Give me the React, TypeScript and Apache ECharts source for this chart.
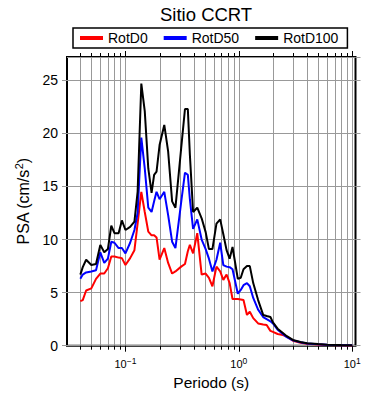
import React, { useEffect, useRef } from "react";
import * as echarts from "echarts";

// Periods (s)
const periods = [
  0.04, 0.042, 0.045, 0.05, 0.055, 0.06, 0.065, 0.07, 0.075, 0.08,
  0.087, 0.093, 0.1, 0.11, 0.12, 0.128, 0.138, 0.148, 0.159, 0.17,
  0.179, 0.188, 0.2, 0.22, 0.238, 0.258, 0.276, 0.31, 0.335, 0.355,
  0.37, 0.395, 0.43, 0.47, 0.51, 0.545, 0.585, 0.635, 0.685, 0.73,
  0.78, 0.83, 0.88, 0.98, 1.04, 1.1, 1.18, 1.25, 1.34, 1.48,
  1.64, 1.76, 1.9, 2.0, 2.2, 2.45, 2.65, 3.0, 3.5, 4.0,
  5.0, 6.0, 8.0, 10.0,
];

// PSA (cm/s^2)
const rotD0 = [
  4.2, 4.3, 5.2, 5.4, 6.3, 6.8, 6.8, 7.3, 8.4, 8.4,
  8.3, 8.25, 7.6, 8.25, 9.0, 11.5, 14.5, 12.6, 10.75, 10.4,
  10.4, 10.2, 8.1, 9.2, 7.8, 6.8, 7.0, 7.45, 7.7, 8.9,
  9.5, 8.7, 10.6, 6.7, 6.8, 6.4, 5.6, 7.45, 7.0, 6.2,
  6.7, 5.9, 4.4, 4.4, 4.35, 4.3, 2.9, 3.2, 2.6, 2.1,
  2.0, 1.95, 1.4, 1.3, 1.1, 1.0, 0.85, 0.47, 0.28, 0.18,
  0.11, 0.07, 0.04, 0.03,
];

const rotD50 = [
  6.3, 6.7, 6.9, 7.0, 7.1, 8.8, 7.8, 8.2, 9.8, 9.7,
  9.2, 9.2, 8.7, 9.7, 10.9, 12.5, 19.6, 16.7, 13.0, 12.6,
  13.6, 14.5, 13.8, 14.5, 12.3, 9.8, 9.2, 13.5, 16.3, 16.1,
  13.8, 11.0, 11.9, 10.0, 9.1, 8.2, 7.0, 8.1, 9.7, 7.6,
  7.45, 7.4, 7.2, 4.9, 5.25, 5.7, 5.9, 5.6, 4.5, 3.4,
  2.7, 2.5, 2.3, 2.1, 1.5, 1.1, 0.8, 0.5, 0.32, 0.21,
  0.13, 0.09, 0.05, 0.035,
];

const rotD100 = [
  6.7, 7.4, 8.1, 7.6, 7.7, 9.5, 8.8, 9.1, 11.3, 10.6,
  10.6, 11.8, 10.9, 11.2, 11.7, 14.5, 24.7, 22.1, 16.7, 14.4,
  16.1, 16.4, 18.9, 20.8, 18.3, 13.6, 13.0, 18.6, 22.3, 22.3,
  18.0, 12.6, 13.0, 12.0, 10.7, 9.1, 9.1, 11.5, 11.9, 10.5,
  9.0, 8.2, 9.3, 6.3, 6.4, 7.2, 7.5, 7.5, 5.9, 4.3,
  2.9, 2.8, 2.7, 2.2, 1.6, 1.2, 0.9, 0.54, 0.35, 0.23,
  0.15, 0.1, 0.06, 0.04,
];

const seriesNames = ["RotD0", "RotD50", "RotD100"];

// Log grid lines (1..9 x 10^n)
const gridPeriods = [
  0.04, 0.05, 0.06, 0.07, 0.08, 0.09,
  0.1, 0.2, 0.3, 0.4, 0.5, 0.6, 0.7, 0.8, 0.9,
  1, 2, 3, 4, 5, 6, 7, 8, 9, 10,
];

const X_MIN = 0.0305;
const X_MAX = 10.7;
const Y_MIN = 0;
const Y_MAX = 27.2;
const Y_STEP = 5;

const FONT = "Liberation Sans, Arial, Helvetica, sans-serif";

function isPow10(v: number) {
  const e = Math.log10(v);
  return Math.abs(e - Math.round(e)) < 1e-6;
}

export default function App() {
  const ref = useRef<HTMLDivElement>(null);

  useEffect(() => {
    document.body.style.margin = "0";
    if (!ref.current) return;
    const chart = echarts.init(ref.current, undefined, { renderer: "svg" });
    const colors = ["#ff0000", "#0000ff", "#000000"];
    const values = [rotD0, rotD50, rotD100];

    const option: any = {
      animation: false,
      textStyle: { fontFamily: FONT },
      title: {
        text: "Sitio CCRT",
        left: 160,
        top: 5,
        padding: 0,
        textStyle: { fontSize: 18.5, fontWeight: "normal", color: "#000", fontFamily: FONT },
      },
      legend: {
        data: seriesNames,
        left: 73,
        top: 28,
        padding: [3, 9, 3, 7],
        itemGap: 16,
        itemWidth: 23,
        itemHeight: 4,
        icon: "rect",
        borderColor: "#000",
        borderWidth: 1.5,
        textStyle: { fontSize: 14, color: "#000", fontFamily: FONT },
      },
      grid: {
        left: 67,
        right: 34.5,
        top: 57,
        bottom: 54.3,
        show: true,
        borderColor: "#000",
        borderWidth: 2,
        backgroundColor: "transparent",
      },
      xAxis: [
        {
          type: "log",
          logBase: 10,
          min: X_MIN,
          max: X_MAX,
          position: "bottom",
          axisLine: { show: false },
          axisTick: { show: false },
          splitLine: { show: false },
          axisLabel: {
            margin: 11,
            showMinLabel: false,
            showMaxLabel: false,
            formatter: (v: number) => {
              if (!isPow10(v)) return "";
              const e = Math.round(Math.log10(v));
              const s = e < 0 ? "\u2212" + -e : String(e);
              return "{b|10}{s|" + s + "}";
            },
            rich: {
              b: { fontSize: 11, lineHeight: 14, color: "#000", fontFamily: FONT },
              s: { fontSize: 8.5, lineHeight: 9, verticalAlign: "top", color: "#000", fontFamily: FONT },
            },
          },
          name: "Periodo (s)",
          nameLocation: "middle",
          nameGap: 28,
          nameTextStyle: { fontSize: 15.5, color: "#000", fontFamily: FONT },
        },
      ],
      yAxis: [
        {
          type: "value",
          min: Y_MIN,
          max: Y_MAX,
          interval: Y_STEP,
          position: "left",
          axisLine: { show: false },
          axisTick: { show: true, length: 5, lineStyle: { color: "#999" } },
          axisLabel: {
            fontSize: 14,
            color: "#000",
            margin: 9,
            showMaxLabel: false,
            fontFamily: FONT,
          },
          splitLine: { show: true, lineStyle: { color: "#999", width: 1 } },
          name: "{b|PSA (cm/s}{s|2}{b|)}",
          nameLocation: "middle",
          nameGap: 28,
          nameTextStyle: {
            rich: {
              b: { fontSize: 16, lineHeight: 20, color: "#000", fontFamily: FONT },
              s: { fontSize: 11, lineHeight: 11, verticalAlign: "top", color: "#000", fontFamily: FONT },
            },
          },
        },
        {
          type: "value",
          min: Y_MIN,
          max: Y_MAX,
          interval: Y_STEP,
          position: "right",
          axisLine: { show: false },
          axisTick: { show: true, length: 5, lineStyle: { color: "#999" } },
          axisLabel: { show: false },
          splitLine: { show: false },
        },
      ],
      series: [
        {
          type: "custom",
          name: "grid",
          silent: true,
          z: 1,
          xAxisIndex: 0,
          yAxisIndex: 0,
          clip: false,
          encode: { x: 0, y: 1 },
          data: gridPeriods.map((p) => [p, 0]),
          renderItem: (params: any, api: any) => {
            const v = api.value(0);
            const pt = api.coord([v, 0]);
            const cs = params.coordSys;
            const len = isPow10(v) ? 6 : 4;
            const x = Math.round(pt[0]) + 0.5;
            const top = cs.y;
            const bottom = cs.y + cs.height;
            return {
              type: "group",
              children: [
                {
                  type: "line",
                  shape: { x1: x, y1: top, x2: x, y2: bottom },
                  style: { stroke: "#999", lineWidth: 1 },
                },
                {
                  type: "line",
                  shape: { x1: x, y1: bottom, x2: x, y2: bottom + len },
                  style: { stroke: "#000", lineWidth: 1 },
                },
                {
                  type: "line",
                  shape: { x1: x, y1: top, x2: x, y2: top - len },
                  style: { stroke: "#000", lineWidth: 1 },
                },
              ],
            };
          },
        },
        ...seriesNames.map((name, i) => ({
          type: "line",
          name,
          z: 3 + i,
          xAxisIndex: 0,
          yAxisIndex: 0,
          showSymbol: false,
          symbol: "none",
          lineStyle: { color: colors[i], width: 2 },
          itemStyle: { color: colors[i] },
          data: periods.map((p, k) => [p, values[i][k]]),
        })),
      ],
    };

    chart.setOption(option);
    return () => chart.dispose();
  }, []);

  return <div ref={ref} style={{ width: 390, height: 400 }} />;
}
